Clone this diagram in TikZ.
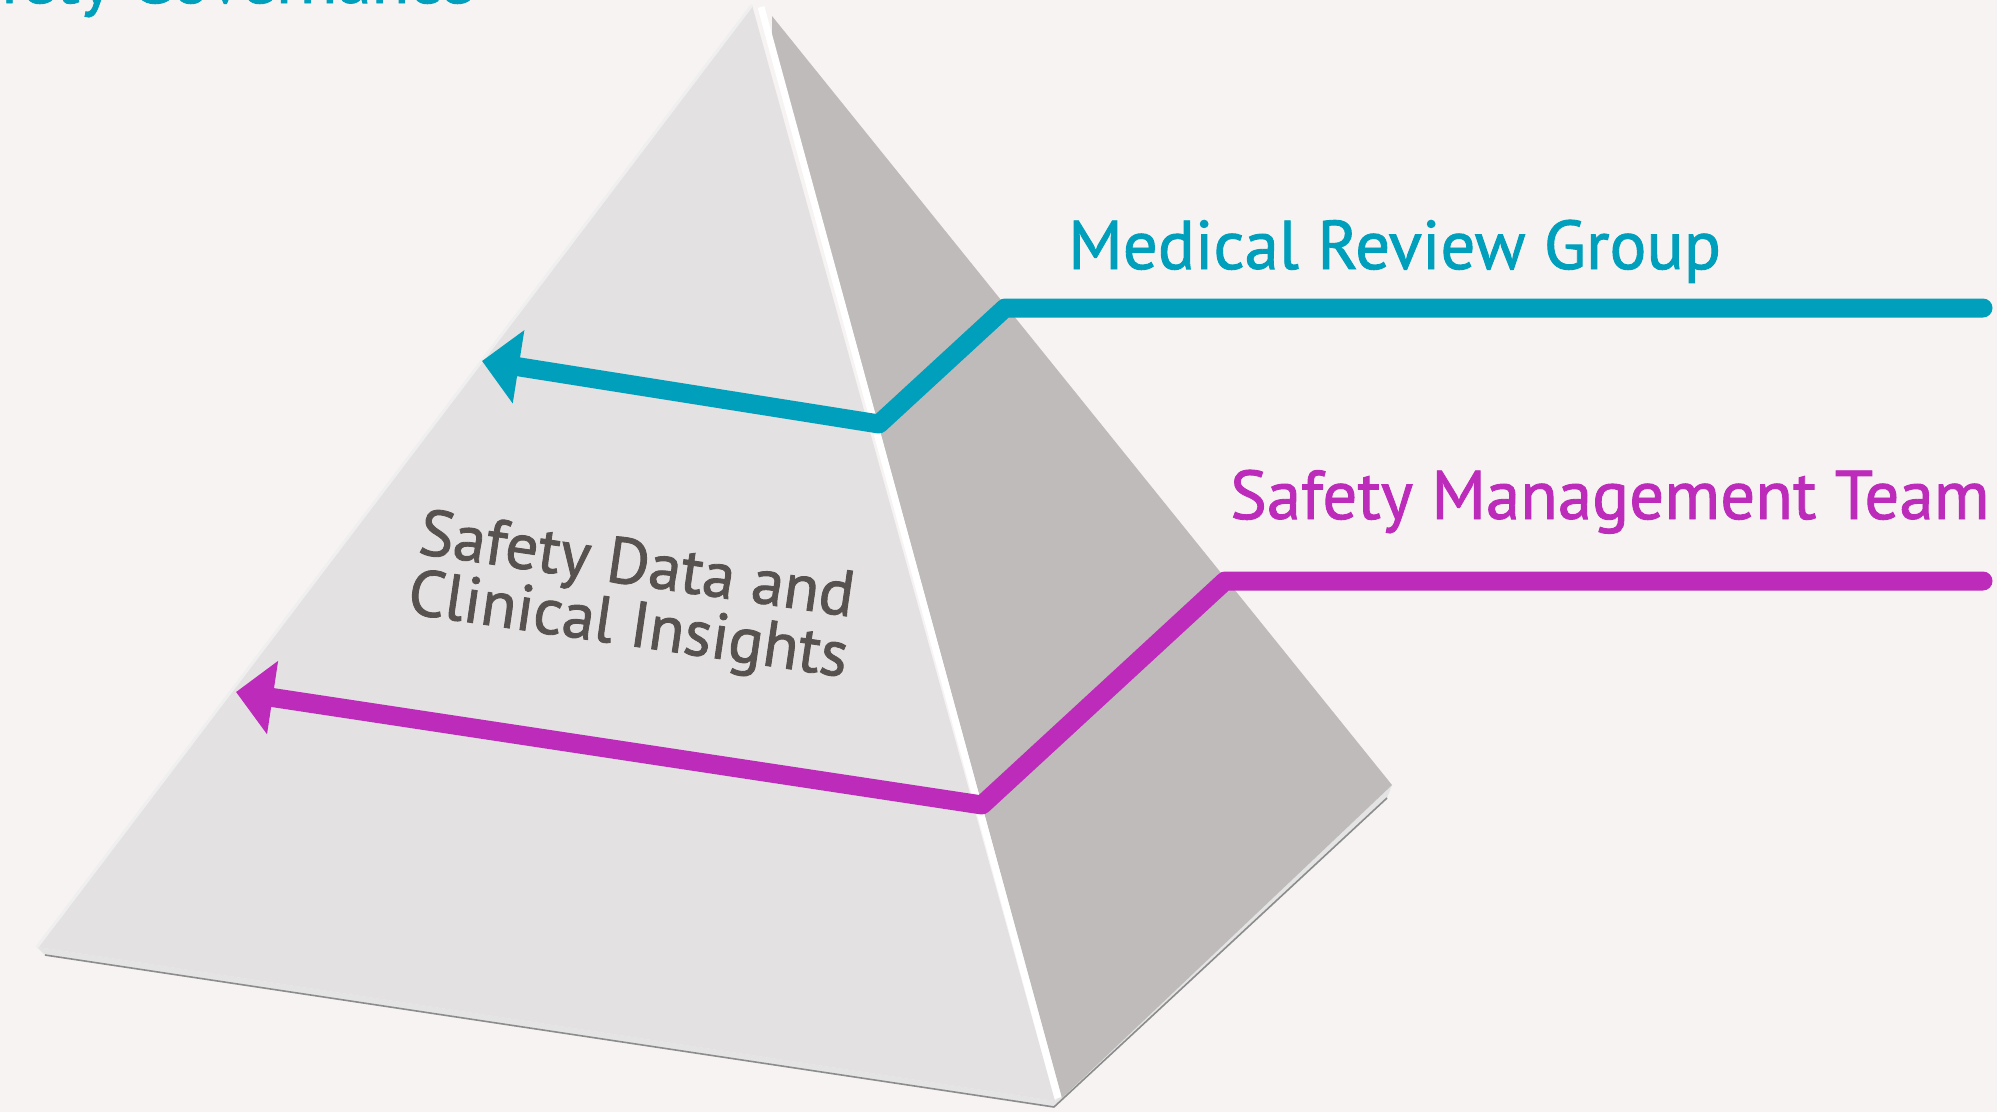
\documentclass[tikz,border=0pt]{standalone}
\usepackage{fontspec}
\setmainfont{PT Sans}
\newfontfamily\tagfont{PT Sans}[FakeBold=1.3]
\usetikzlibrary{arrows.meta,positioning,calc}
\definecolor{paper}{HTML}{F6F3F2}
\definecolor{faceL}{HTML}{E3E1E2}
\definecolor{faceR}{HTML}{BFBBBA}
\definecolor{slabc}{HTML}{E4E4E4}
\definecolor{rimc}{HTML}{8C8C8C}
\definecolor{tealink}{HTML}{00A0BC}
\definecolor{plum}{HTML}{BD2BBA}
\definecolor{inkgrey}{HTML}{57524F}
\tikzset{
  lface/.style={fill=faceL},
  rface/.style={fill=faceR},
  ridge/.style={draw=white,line width=7pt},
  slab/.style={fill=slabc},
  rim/.style={draw=rimc,line width=1.6pt,line join=round},
  lead/.style={line width=19pt,line cap=round,line join=round,-{Triangle[length=37pt,width=72pt]}},
  tag/.style={inner sep=0pt,anchor=base west,font=\tagfont\fontsize{69}{69}\selectfont},
  core/.style={inner sep=0pt,align=center,rotate=-8.3,text=inkgrey,font=\tagfont\fontsize{65}{57}\selectfont},
}
\begin{document}
\begin{tikzpicture}[x=1pt,y=-1pt]
  \clip (0,0) rectangle (1997,1112);
  \fill[paper] (0,0) rectangle (1997,1112);
  % pyramid corners
  \coordinate (apexL) at (752,5);
  \coordinate (apexR) at (772,16);
  \coordinate (baseL) at (37,947);
  \coordinate (baseF) at (1055,1101);
  \coordinate (baseR) at (1392,785);
  \coordinate (lowL) at (45,955);
  \coordinate (lowF) at (1054,1107);
  \coordinate (lowR) at (1387,798);
  \fill[slab] (baseL) -- (baseF) -- (baseR) -- (lowR) -- (lowF) -- (lowL) -- cycle;
  \draw[rim] (lowL) -- (lowF) -- (lowR);
  \fill[lface] (apexL) -- (baseL) -- (baseF) -- cycle;
  \draw[draw=slabc!60!white,line width=3pt] (apexL) -- (baseL);
  \fill[rface] (apexR) -- (772,36) -- (1062,1098) -- (baseR) -- cycle;
  \draw[ridge] (761,7) -- (1058,1098);
  % layer labels
  \node[tag,text=tealink,anchor=base east] (gov) at (474,3) {Safety Governance};
  \node[tag,text=tealink] (mrg) at (1068,269) {Medical Review Group};
  \node[tag,text=plum] (smt) at (1230,519) {Safety Management Team};
  \node[core] (data) at (632,599) {Safety Data and\\Clinical Insights};
  % leader lines into the pyramid
  \coordinate (mrgEnd) at (1983,308);
  \coordinate (mrgKnee) at (1005,308);
  \coordinate (mrgBend) at (879,424);
  \coordinate (mrgTip) at (482,361);
  \coordinate (smtEnd) at (1983,581);
  \coordinate (smtKnee) at (1225,581);
  \coordinate (smtBend) at (982,805);
  \coordinate (smtTip) at (236,692);
  \draw[lead,draw=tealink] (mrgEnd) -- (mrgKnee) -- (mrgBend) -- (mrgTip);
  \draw[lead,draw=plum] (smtEnd) -- (smtKnee) -- (smtBend) -- (smtTip);
\end{tikzpicture}
\end{document}
